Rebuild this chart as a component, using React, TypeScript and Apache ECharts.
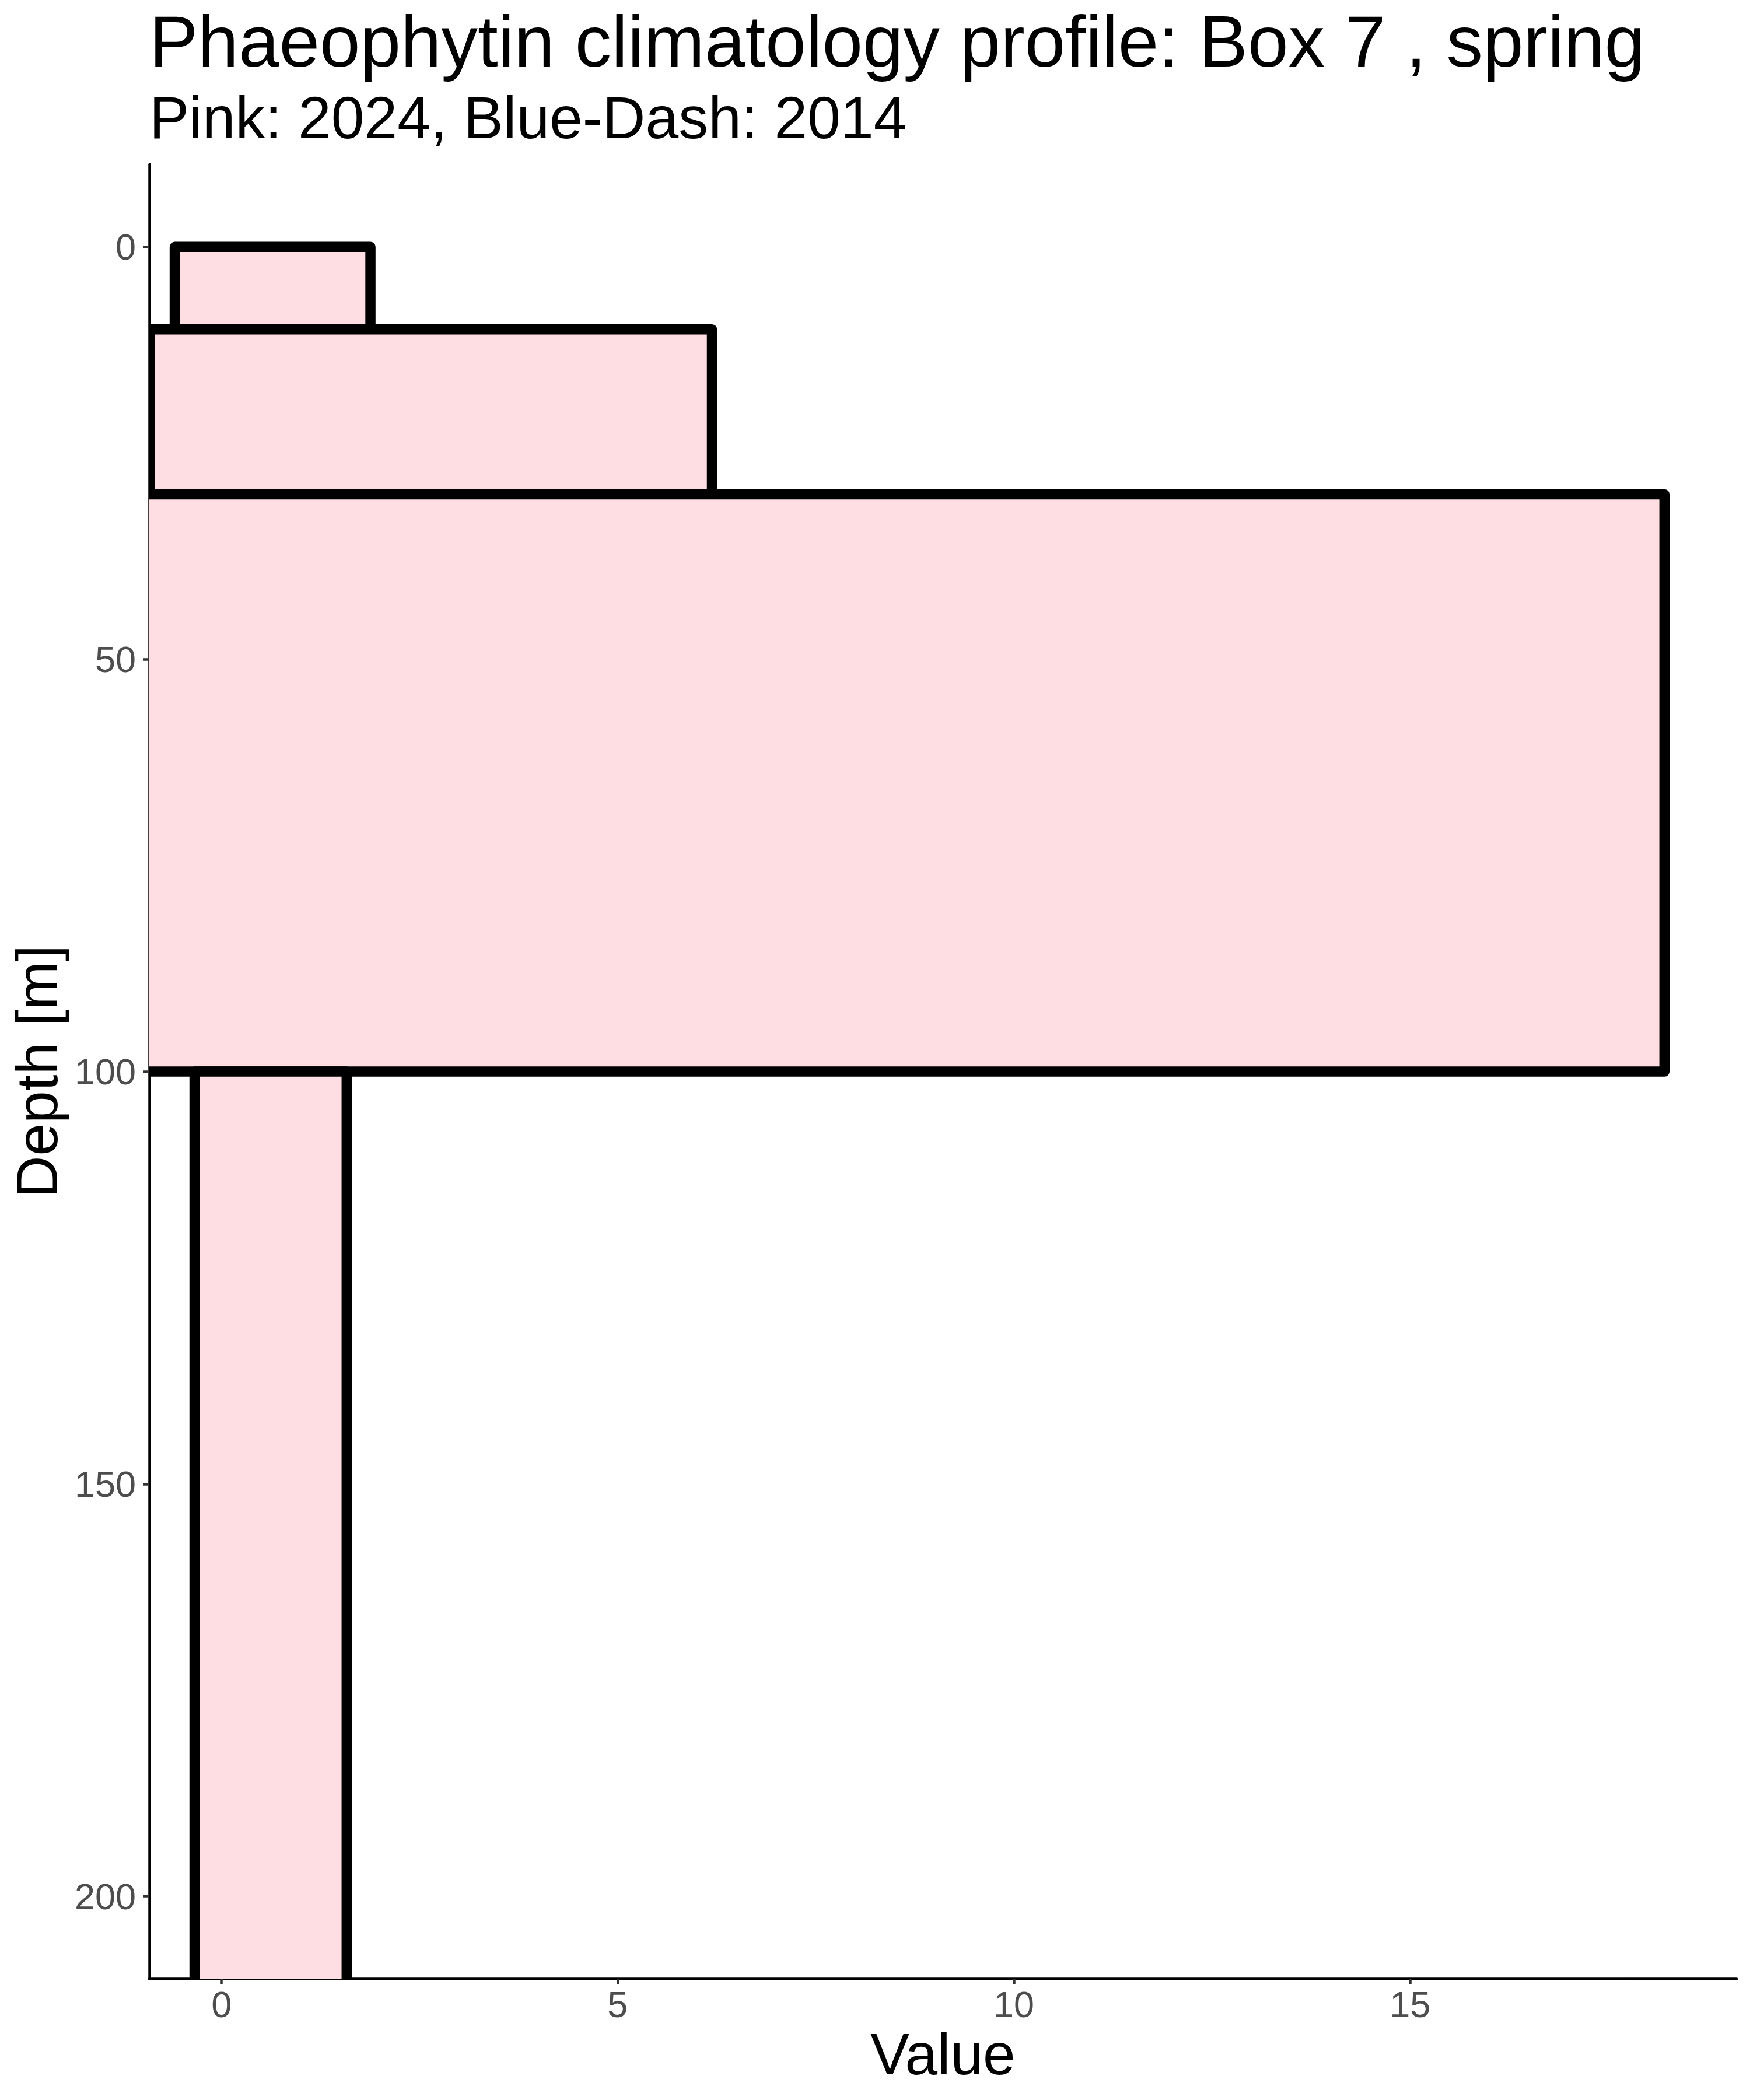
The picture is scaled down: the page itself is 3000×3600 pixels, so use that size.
import React, { useEffect, useRef } from "react";
import * as echarts from "echarts";

// Depth layers (m) and value extents of each pink box
const depthTop = [0, 10, 30, 100];
const depthBottom = [10, 30, 100, 250];
const valueMin = [-0.59, -0.905, -1.5, -0.34];
const valueMax = [1.88, 6.19, 18.21, 1.58];

const xTicks = [0, 5, 10, 15];
const yTicks = [0, 50, 100, 150, 200];

const titleText = "Phaeophytin climatology profile: Box 7 , spring";
const subtitleText = "Pink: 2024, Blue-Dash: 2014";
const xName = "Value";
const yName = "Depth [m]";

const FONT = "'Liberation Sans', Arial, Helvetica, sans-serif";

export default function App() {
  const ref = useRef<HTMLDivElement>(null);
  useEffect(() => {
    if (!ref.current) return;
    const chart = echarts.init(ref.current, null, { renderer: "svg" });
    const xMaxData = Math.max(...valueMax);
    const xPad = 0.05 * (xMaxData - 0);
    const data = depthTop.map((t, i) => [valueMin[i], valueMax[i], t, depthBottom[i]]);
    const gridLeft = 256, gridRight = 23, gridTop = 282, gridBottom = 208;
    const panelCx = gridLeft + (3000 - gridLeft - gridRight) / 2;
    const panelCy = gridTop + (3600 - gridTop - gridBottom) / 2;
    chart.setOption({
      animation: false,
      backgroundColor: "#ffffff",
      grid: { left: gridLeft, right: gridRight, top: gridTop, bottom: gridBottom, containLabel: false },
      xAxis: {
        type: "value",
        min: 0 - xPad,
        max: xMaxData + xPad,
        axisLine: { show: true, onZero: false, lineStyle: { color: "#000000", width: 4.5 } },
        axisTick: { show: true, length: 10, customValues: xTicks, lineStyle: { color: "#333333", width: 4.5 } },
        axisLabel: { show: true, customValues: xTicks, margin: 12, fontSize: 63, color: "#4D4D4D", fontFamily: FONT },
        splitLine: { show: false },
      },
      yAxis: {
        type: "value",
        inverse: true,
        min: -10,
        max: 210,
        axisLine: { show: true, onZero: false, lineStyle: { color: "#000000", width: 4.5 } },
        axisTick: { show: true, length: 10, customValues: yTicks, lineStyle: { color: "#333333", width: 4.5 } },
        axisLabel: { show: true, customValues: yTicks, margin: 23, fontSize: 63, color: "#4D4D4D", fontFamily: FONT },
        splitLine: { show: false },
      },
      graphic: [
        { type: "text", x: gridLeft, y: 70, style: { text: titleText, font: `125px ${FONT}`, fill: "#000", textAlign: "left", textVerticalAlign: "middle" } },
        { type: "text", x: gridLeft, y: 202, style: { text: subtitleText, font: `102px ${FONT}`, fill: "#000", textAlign: "left", textVerticalAlign: "middle" } },
        { type: "text", x: panelCx, y: 3521, style: { text: xName, font: `100px ${FONT}`, fill: "#000", textAlign: "center", textVerticalAlign: "middle" } },
        { type: "text", x: 63, y: panelCy, rotation: Math.PI / 2, style: { text: yName, font: `100px ${FONT}`, fill: "#000", textAlign: "center", textVerticalAlign: "middle" } },
      ],
      series: [
        {
          type: "custom",
          clip: true,
          encode: { x: [0, 1], y: [2, 3] },
          data,
          renderItem: (params: any, api: any) => {
            const p1 = api.coord([api.value(0), api.value(2)]);
            const p2 = api.coord([api.value(1), api.value(3)]);
            return {
              type: "rect",
              shape: {
                x: Math.min(p1[0], p2[0]),
                y: Math.min(p1[1], p2[1]),
                width: Math.abs(p2[0] - p1[0]),
                height: Math.abs(p2[1] - p1[1]),
              },
              style: { fill: "#FEDDE3", stroke: "#000000", lineWidth: 17.5, lineJoin: "round" },
            };
          },
        },
      ],
    });
    return () => chart.dispose();
  }, []);
  return <div ref={ref} style={{ position: "absolute", left: 0, top: 0, width: 3000, height: 3600 }} />;
}
